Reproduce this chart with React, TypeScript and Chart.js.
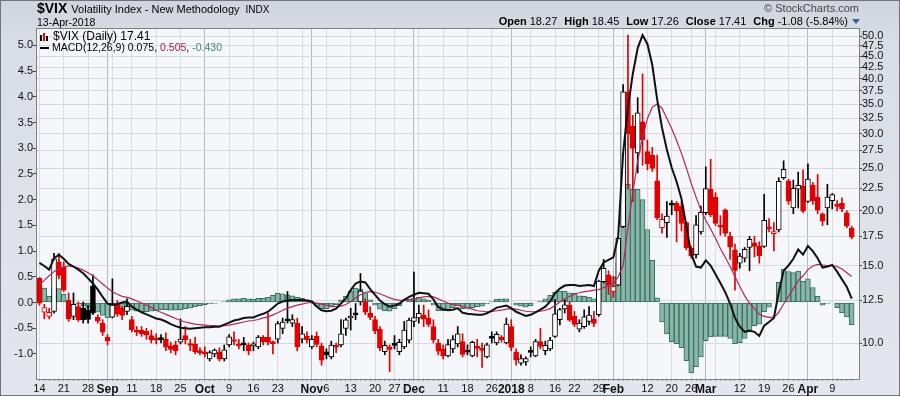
import React, { useEffect, useRef } from "react";
import { Chart, registerables } from "chart.js";

Chart.register(...registerables);

const FONT = '"Liberation Sans", Arial, sans-serif';

// ---- categories (trading days) ----
const firstDay = "2017-08-14";
const lastDay = "2018-04-13";
const holidays = ["2017-09-04", "2017-11-23", "2017-12-25", "2018-01-01", "2018-01-15", "2018-02-19", "2018-03-30"];

function buildTradingDays(): string[] {
  const out: string[] = [];
  const d = new Date(firstDay + "T00:00:00Z");
  const end = new Date(lastDay + "T00:00:00Z");
  while (d <= end) {
    const wd = d.getUTCDay();
    const s = d.toISOString().slice(0, 10);
    if (wd !== 0 && wd !== 6 && !holidays.includes(s)) out.push(s);
    d.setUTCDate(d.getUTCDate() + 1);
  }
  return out;
}
const dates = buildTradingDays();

// ---- tick labels ----
const tickLabels: [string, string][] = [
  ["2017-08-14", "14"], ["2017-08-21", "21"], ["2017-08-28", "28"], ["2017-09-01", "Sep"],
  ["2017-09-11", "11"], ["2017-09-18", "18"], ["2017-09-25", "25"], ["2017-10-02", "Oct"],
  ["2017-10-09", "9"], ["2017-10-16", "16"], ["2017-10-23", "23"], ["2017-11-01", "Nov"],
  ["2017-11-06", "6"], ["2017-11-13", "13"], ["2017-11-20", "20"], ["2017-11-27", "27"],
  ["2017-12-01", "Dec"], ["2017-12-11", "11"], ["2017-12-18", "18"], ["2017-12-26", "26"],
  ["2018-01-02", "2018"], ["2018-01-08", "8"], ["2018-01-16", "16"], ["2018-01-22", "22"],
  ["2018-01-29", "29"], ["2018-02-01", "Feb"], ["2018-02-12", "12"], ["2018-02-20", "20"],
  ["2018-02-26", "26"], ["2018-03-01", "Mar"], ["2018-03-12", "12"], ["2018-03-19", "19"],
  ["2018-03-26", "26"], ["2018-04-02", "Apr"], ["2018-04-09", "9"],
];
const boldTickLabels = ["Sep", "Oct", "Nov", "Dec", "2018", "Feb", "Mar", "Apr"];
const macdTicks = [-1.0, -0.5, 0.0, 0.5, 1.0, 1.5, 2.0, 2.5, 3.0, 3.5, 4.0, 4.5, 5.0];
const priceTicks = [10.0, 12.5, 15.0, 17.5, 20.0, 22.5, 25.0, 27.5, 30.0, 32.5, 35.0, 37.5, 40.0, 42.5, 45.0, 47.5, 50.0];

// ---- $VIX daily OHLC ----
const open = [
  14.05, 11.75, 11.50, 11.80, 15.30, 14.90, 12.50, 11.50, 12.10, 12.00,
  11.90, 13.50, 11.45, 11.10, 10.30, 11.45, 12.20, 12.00, 11.80, 11.30,
  10.65, 10.70, 10.65, 10.40, 10.25, 10.20, 10.20, 9.85, 9.90, 10.05,
  10.40, 9.90, 9.95, 9.60, 9.55, 9.20, 9.45, 9.55, 9.20, 9.90,
  10.15, 9.95, 9.95, 9.90, 9.85, 9.80, 10.30, 10.30, 10.00, 10.20,
  10.80, 11.30, 11.10, 11.10, 10.20, 10.35, 9.80, 10.35, 9.85, 9.55,
  9.30, 9.80, 9.90, 10.80, 11.40, 11.65, 12.40, 12.40, 11.70, 11.30,
  10.75, 9.55, 9.80, 10.00, 9.55, 9.80, 10.15, 11.20, 11.40, 11.60,
  11.40, 10.90, 10.00, 9.70, 9.35, 9.70, 9.95, 10.07, 9.55, 9.35,
  9.75, 9.65, 9.30, 10.30, 10.00, 10.30, 10.00, 10.90, 9.55, 9.00,
  9.05, 9.60, 9.35, 10.07, 9.60, 9.70, 10.35, 11.30, 11.95, 12.20,
  11.50, 10.75, 10.90, 11.20, 11.35, 11.60, 13.80, 14.30, 13.10, 13.55,
  18.40, 37.30, 31.20, 27.10, 31.90, 27.30, 26.80, 23.40, 18.30, 18.80,
  20.80, 20.80, 20.50, 18.80, 16.45, 15.90, 17.90, 19.80, 22.40, 21.50,
  18.40, 20.10, 17.50, 16.30, 15.20, 15.60, 16.50, 16.90, 16.60, 16.60,
  18.30, 17.75, 18.10, 23.80, 23.40, 20.30, 22.40, 22.80, 21.00, 22.90,
  21.50, 19.70, 20.30, 21.10, 20.50, 20.80, 19.80, 18.27,
];
const high = [
  14.10, 12.25, 12.00, 16.00, 16.00, 15.30, 13.00, 13.00, 12.40, 12.40,
  12.20, 14.30, 11.60, 11.30, 10.45, 14.00, 12.50, 12.10, 12.60, 11.50,
  10.90, 10.90, 10.80, 10.70, 10.50, 10.45, 10.55, 10.05, 10.10, 11.35,
  10.90, 10.20, 10.30, 9.75, 9.80, 9.60, 9.70, 9.75, 9.90, 10.45,
  10.60, 10.20, 10.30, 10.00, 10.05, 10.40, 10.40, 11.70, 10.10, 11.20,
  11.40, 13.10, 11.60, 11.40, 10.90, 10.60, 10.40, 10.60, 10.00, 9.70,
  10.10, 10.00, 11.30, 11.40, 12.00, 12.30, 14.40, 12.60, 12.10, 11.50,
  10.90, 10.10, 9.90, 10.40, 10.20, 11.20, 11.40, 14.50, 12.20, 12.20,
  11.90, 11.30, 10.20, 9.90, 10.20, 10.40, 10.90, 10.50, 9.90, 10.10,
  10.20, 10.00, 10.00, 10.60, 10.60, 10.40, 11.40, 11.30, 9.70, 9.40,
  9.30, 9.80, 10.20, 10.80, 10.10, 10.30, 12.55, 12.00, 12.55, 12.40,
  11.80, 11.30, 11.90, 12.10, 11.80, 13.90, 15.50, 14.60, 14.20, 17.40,
  38.80, 50.30, 33.00, 36.20, 41.00, 29.00, 27.90, 26.80, 19.70, 21.00,
  21.10, 21.00, 21.00, 18.90, 16.60, 19.50, 20.50, 25.20, 26.20, 22.00,
  19.50, 20.20, 17.90, 16.80, 16.00, 16.50, 17.50, 17.50, 17.00, 21.80,
  19.20, 18.80, 23.80, 26.00, 23.60, 23.50, 24.50, 24.80, 25.60, 23.20,
  24.20, 19.80, 23.00, 21.90, 21.10, 21.40, 20.00, 18.45,
];
const low = [
  12.20, 11.35, 11.35, 11.70, 14.00, 13.10, 11.20, 11.30, 11.20, 11.10,
  11.10, 11.60, 11.10, 10.40, 9.90, 11.40, 11.50, 11.30, 11.60, 10.60,
  10.40, 10.35, 10.20, 10.00, 9.95, 10.00, 9.60, 9.50, 9.40, 9.95,
  9.95, 9.60, 9.45, 9.40, 9.30, 9.10, 9.30, 9.10, 9.10, 9.80,
  9.90, 9.70, 9.60, 9.40, 9.60, 9.70, 9.90, 9.90, 9.45, 10.00,
  10.50, 11.10, 10.90, 9.60, 10.00, 10.00, 9.70, 9.80, 8.90, 9.20,
  9.20, 9.50, 9.80, 10.40, 10.70, 11.30, 12.20, 11.60, 11.30, 10.50,
  9.60, 9.40, 8.60, 9.70, 9.40, 9.70, 10.00, 10.90, 11.10, 10.90,
  10.90, 10.00, 9.40, 9.20, 9.30, 9.50, 9.80, 9.30, 9.40, 9.30,
  9.30, 8.80, 9.25, 10.00, 9.90, 10.05, 9.95, 9.60, 8.90, 8.90,
  8.90, 9.30, 9.30, 9.70, 9.40, 9.60, 10.30, 11.00, 11.70, 11.20,
  10.90, 10.60, 10.80, 11.00, 10.90, 11.50, 13.70, 12.90, 12.70, 13.50,
  18.30, 22.40, 21.00, 24.40, 25.40, 24.80, 24.60, 19.10, 17.80, 17.40,
  19.60, 17.00, 18.00, 16.30, 15.60, 15.60, 17.70, 19.60, 19.40, 18.50,
  17.60, 17.50, 15.50, 13.20, 14.80, 15.30, 14.60, 15.70, 15.20, 16.50,
  17.90, 16.20, 17.90, 23.60, 20.70, 19.70, 20.30, 19.80, 20.90, 20.70,
  19.70, 18.50, 18.60, 20.20, 20.00, 19.90, 18.30, 17.26,
];
const close = [
  12.33, 12.04, 11.74, 15.55, 14.26, 13.19, 11.35, 12.25, 11.28, 11.28,
  11.32, 11.70, 11.22, 10.59, 10.13, 12.23, 11.63, 11.55, 12.12, 10.73,
  10.58, 10.50, 10.44, 10.17, 10.15, 10.18, 9.78, 9.67, 9.59, 10.21,
  10.17, 9.87, 9.55, 9.51, 9.45, 9.51, 9.63, 9.19, 9.65, 10.33,
  10.08, 9.85, 9.91, 9.61, 9.91, 10.31, 10.07, 10.05, 9.97, 11.07,
  11.16, 11.23, 11.30, 9.80, 10.50, 10.18, 10.20, 9.93, 9.14, 9.40,
  9.89, 9.78, 10.50, 11.29, 11.50, 11.59, 13.13, 11.76, 11.43, 10.65,
  9.73, 9.88, 9.67, 9.87, 10.03, 10.70, 11.28, 11.43, 11.68, 11.33,
  11.02, 10.16, 9.58, 9.34, 9.92, 10.18, 10.49, 9.42, 9.53, 10.03,
  9.72, 9.62, 9.90, 10.25, 10.47, 10.18, 11.04, 9.77, 9.15, 9.22,
  9.22, 9.52, 10.08, 9.82, 9.88, 10.16, 11.66, 11.91, 12.22, 11.27,
  11.03, 11.10, 11.47, 11.58, 11.08, 13.84, 14.79, 13.54, 13.47, 17.31,
  37.32, 29.98, 27.73, 33.46, 29.06, 25.61, 24.97, 19.26, 19.13, 19.46,
  20.60, 20.02, 18.72, 16.49, 15.80, 18.59, 19.85, 22.47, 19.59, 18.73,
  18.36, 17.76, 16.54, 14.64, 15.78, 16.35, 17.23, 16.59, 15.80, 19.02,
  18.20, 17.86, 23.34, 24.87, 21.03, 22.50, 22.87, 19.97, 23.62, 21.10,
  20.06, 18.94, 21.49, 21.77, 20.47, 20.24, 18.49, 17.41,
];

// ---- MACD(12,26,9) ----
const macdLine = [
  0.77, 0.71, 0.64, 0.86, 0.93, 0.85, 0.75, 0.70, 0.64, 0.57,
  0.47, 0.37, 0.25, 0.11, -0.02, -0.05, -0.03, 0.00, 0.02, -0.08,
  -0.14, -0.19, -0.23, -0.27, -0.31, -0.33, -0.37, -0.42, -0.46, -0.49,
  -0.50, -0.51, -0.50, -0.49, -0.48, -0.48, -0.47, -0.47, -0.43, -0.39,
  -0.35, -0.33, -0.30, -0.29, -0.29, -0.25, -0.22, -0.18, -0.10, -0.02,
  0.02, 0.04, 0.05, 0.05, 0.05, 0.04, 0.02, -0.08, -0.15, -0.17,
  -0.16, -0.12, -0.02, 0.08, 0.24, 0.37, 0.41, 0.39, 0.26, 0.15,
  0.04, -0.03, -0.08, -0.06, -0.02, 0.05, 0.11, 0.15, 0.19, 0.18,
  0.17, 0.06, -0.09, -0.13, -0.15, -0.14, -0.11, -0.20, -0.22, -0.23,
  -0.24, -0.24, -0.21, -0.16, -0.10, -0.08, -0.06, -0.11, -0.18, -0.22,
  -0.26, -0.24, -0.19, -0.14, -0.08, 0.02, 0.18, 0.27, 0.33, 0.34,
  0.34, 0.32, 0.33, 0.34, 0.32, 0.62, 0.78, 0.83, 0.88, 1.30,
  2.90, 3.80, 4.45, 4.95, 5.20, 5.03, 4.62, 3.95, 3.40, 2.97,
  2.62, 2.35, 2.02, 1.49, 0.95, 0.70, 0.68, 0.82, 0.72, 0.55,
  0.38, 0.20, -0.02, -0.30, -0.47, -0.57, -0.55, -0.57, -0.65, -0.45,
  -0.38, -0.30, 0.20, 0.62, 0.72, 0.85, 1.03, 0.93, 1.10, 1.00,
  0.86, 0.68, 0.70, 0.73, 0.60, 0.45, 0.30, 0.075,
];
const signalLine = [
  0.35, 0.43, 0.52, 0.60, 0.66, 0.69, 0.71, 0.70, 0.67, 0.63,
  0.58, 0.52, 0.44, 0.36, 0.28, 0.21, 0.16, 0.12, 0.10, 0.07,
  0.03, -0.01, -0.05, -0.10, -0.15, -0.19, -0.23, -0.27, -0.31, -0.35,
  -0.38, -0.40, -0.42, -0.43, -0.44, -0.45, -0.45, -0.46, -0.45, -0.44,
  -0.42, -0.40, -0.38, -0.36, -0.35, -0.33, -0.30, -0.28, -0.24, -0.20,
  -0.15, -0.11, -0.08, -0.05, -0.03, -0.01, 0.00, -0.01, -0.03, -0.05,
  -0.07, -0.08, -0.07, -0.04, 0.02, 0.09, 0.15, 0.20, 0.21, 0.20,
  0.17, 0.13, 0.09, 0.06, 0.04, 0.04, 0.05, 0.07, 0.09, 0.11,
  0.12, 0.11, 0.07, 0.03, -0.01, -0.04, -0.05, -0.08, -0.11, -0.13,
  -0.16, -0.17, -0.18, -0.18, -0.16, -0.15, -0.13, -0.12, -0.13, -0.15,
  -0.17, -0.18, -0.18, -0.17, -0.15, -0.12, -0.06, 0.01, 0.07, 0.12,
  0.16, 0.19, 0.21, 0.22, 0.24, 0.25, 0.29, 0.33, 0.37, 0.50,
  0.72, 1.45, 2.15, 2.75, 3.20, 3.58, 3.80, 3.86, 3.78, 3.58,
  3.38, 3.15, 2.90, 2.62, 2.32, 2.05, 1.80, 1.60, 1.43, 1.25,
  1.05, 0.88, 0.70, 0.50, 0.31, 0.13, -0.01, -0.12, -0.23, -0.27,
  -0.29, -0.29, -0.19, -0.03, 0.12, 0.27, 0.42, 0.52, 0.64, 0.71,
  0.74, 0.73, 0.72, 0.72, 0.70, 0.65, 0.58, 0.505,
];
const macdHist = [
  0.42, 0.28, 0.12, 0.26, 0.27, 0.16, 0.04, 0.00, -0.03, -0.06,
  -0.11, -0.15, -0.19, -0.25, -0.30, -0.26, -0.19, -0.12, -0.08, -0.15,
  -0.17, -0.18, -0.18, -0.17, -0.16, -0.14, -0.14, -0.15, -0.15, -0.14,
  -0.12, -0.11, -0.08, -0.06, -0.04, -0.03, -0.02, -0.01, 0.02, 0.05,
  0.07, 0.07, 0.08, 0.07, 0.06, 0.08, 0.08, 0.10, 0.14, 0.18,
  0.17, 0.15, 0.13, 0.10, 0.08, 0.05, 0.02, -0.07, -0.12, -0.12,
  -0.09, -0.04, 0.05, 0.12, 0.22, 0.28, 0.26, 0.19, 0.05, -0.05,
  -0.13, -0.16, -0.17, -0.12, -0.06, 0.01, 0.06, 0.08, 0.10, 0.07,
  0.05, -0.05, -0.16, -0.16, -0.14, -0.10, -0.06, -0.12, -0.11, -0.10,
  -0.08, -0.07, -0.03, 0.02, 0.06, 0.07, 0.07, 0.01, -0.05, -0.07,
  -0.09, -0.06, -0.01, 0.03, 0.07, 0.14, 0.20, 0.22, 0.22, 0.19,
  0.18, 0.13, 0.12, 0.10, 0.07, 0.40, 0.45, 0.48, 0.50, 0.78,
  2.05, 2.30, 2.20, 2.20, 2.00, 1.42, 0.82, 0.09, -0.38, -0.61,
  -0.76, -0.80, -0.88, -1.13, -1.37, -1.25, -1.06, -0.74, -0.67, -0.66,
  -0.66, -0.66, -0.70, -0.80, -0.78, -0.70, -0.54, -0.45, -0.42, -0.18,
  -0.09, -0.01, 0.39, 0.65, 0.60, 0.58, 0.61, 0.41, 0.46, 0.29,
  0.12, -0.05, -0.02, 0.01, -0.10, -0.20, -0.28, -0.43,
];

const RED = "#e20000";
const BLACK = "#000000";

export default function App() {
  const canvasRef = useRef<HTMLCanvasElement>(null);

  useEffect(() => {
    const labelByDate: Record<string, string> = {};
    tickLabels.forEach(([d, l]) => (labelByDate[d] = l));
    const categories = [...dates, ""]; // one empty slot after the last session
    const tickText = categories.map((d) => labelByDate[d] || "");

    const weekKey = (s: string) => {
      const t = new Date(s + "T00:00:00Z");
      const wd = t.getUTCDay();
      t.setUTCDate(t.getUTCDate() - (wd - 1));
      return t.toISOString().slice(0, 10);
    };
    const isWeekStart = (i: number) => i < dates.length && (i === 0 || weekKey(dates[i]) !== weekKey(dates[i - 1]));
    const isMonthStart = (i: number) => i > 0 && i < dates.length && dates[i].slice(0, 7) !== dates[i - 1].slice(0, 7);

    const candleColor = dates.map((_, i) =>
      (i === 0 ? close[i] >= open[i] : close[i] >= close[i - 1]) ? BLACK : RED
    );
    const bodyFill = dates.map((_, i) => (close[i] < open[i] ? candleColor[i] : "#ffffff"));

    const plotFrame = {
      id: "plotFrame",
      beforeDraw(chart: any) {
        const { ctx, chartArea: a } = chart;
        ctx.save();
        ctx.fillStyle = "#f6f7fb";
        ctx.fillRect(a.left, a.top, a.right - a.left, a.bottom - a.top);
        ctx.restore();
      },
      afterDraw(chart: any) {
        const { ctx, chartArea: a } = chart;
        ctx.save();
        ctx.strokeStyle = "#7b7f88";
        ctx.lineWidth = 1;
        ctx.strokeRect(Math.round(a.left) - 0.5, Math.round(a.top) - 0.5, Math.round(a.right - a.left) + 1, Math.round(a.bottom - a.top) + 1);
        ctx.restore();
      },
    };

    const chart = new Chart(canvasRef.current as HTMLCanvasElement, {
      type: "bar",
      data: {
        labels: categories,
        datasets: [
          {
            type: "line",
            label: "MACD",
            data: macdLine,
            yAxisID: "y",
            borderColor: "#111111",
            borderWidth: 2,
            pointRadius: 0,
            tension: 0,
            order: 0,
          } as any,
          {
            type: "line",
            label: "Signal",
            data: signalLine,
            yAxisID: "y",
            borderColor: "#b3275a",
            borderWidth: 1.2,
            pointRadius: 0,
            tension: 0,
            order: 0,
          } as any,
          {
            type: "bar",
            label: "body",
            data: dates.map((_, i) => [open[i], close[i]]),
            yAxisID: "y2",
            backgroundColor: bodyFill,
            borderColor: candleColor,
            borderWidth: 1,
            borderSkipped: false,
            barThickness: 5,
            minBarLength: 2,
            grouped: false,
            order: 1,
          } as any,
          {
            type: "bar",
            label: "wick",
            data: dates.map((_, i) => [low[i], high[i]]),
            yAxisID: "y2",
            backgroundColor: candleColor,
            borderWidth: 0,
            barThickness: 1,
            grouped: false,
            order: 2,
          } as any,
          {
            type: "bar",
            label: "hist",
            data: macdHist,
            yAxisID: "y",
            backgroundColor: "#8ab6a8",
            borderColor: "#356f5f",
            borderWidth: 1,
            borderSkipped: false,
            barPercentage: 1,
            categoryPercentage: 1,
            grouped: false,
            order: 3,
          } as any,
        ],
      },
      options: {
        animation: false,
        responsive: false,
        events: [],
        layout: { padding: { top: 29, left: 0, right: 0, bottom: 0 }, autoPadding: false },
        plugins: { legend: { display: false }, tooltip: { enabled: false }, title: { display: false } },
        scales: {
          x: {
            type: "category",
            offset: true,
            border: { display: false },
            grid: {
              offset: false,
              drawOnChartArea: true,
              drawTicks: true,
              tickLength: 2,
              color: (c: any) => (isMonthStart(c.index) ? "#b4b8c2" : isWeekStart(c.index) ? "#d9dce3" : "rgba(0,0,0,0)"),
              tickColor: (c: any) => (c.index < dates.length ? "#8a8e96" : "rgba(0,0,0,0)"),
            },
            ticks: {
              autoSkip: false,
              maxRotation: 0,
              minRotation: 0,
              padding: 1,
              color: "#111",
              callback: (_v: any, i: number) => tickText[i],
              font: (c: any) => ({
                family: FONT,
                size: boldTickLabels.includes(tickText[c.index]) ? 12 : 11,
                weight: boldTickLabels.includes(tickText[c.index]) ? "bold" : "normal",
              }),
            },
            afterFit: (s: any) => {
              s.height = 17;
            },
          },
          y: {
            type: "linear",
            position: "left",
            min: -1.488,
            max: 5.32,
            border: { display: false },
            grid: { drawOnChartArea: false, drawTicks: true, tickLength: 4, tickColor: "#444" },
            ticks: {
              padding: 0,
              color: "#111",
              font: { family: FONT, size: 11 },
              callback: (v: any) => Number(v).toFixed(1),
            },
            afterBuildTicks: (s: any) => {
              s.ticks = macdTicks.map((v) => ({ value: v }));
            },
            afterFit: (s: any) => {
              s.width = 37;
            },
          },
          y2: {
            type: "logarithmic",
            position: "right",
            min: 8.28,
            max: 51.9,
            border: { display: false },
            grid: { drawOnChartArea: true, color: "#d6d9e1", drawTicks: true, tickLength: 3, tickColor: "#444" },
            ticks: {
              padding: 0,
              color: "#111",
              font: { family: FONT, size: 11 },
              callback: (v: any) => Number(v).toFixed(1),
            },
            afterBuildTicks: (s: any) => {
              s.ticks = priceTicks.map((v) => ({ value: v }));
            },
            afterFit: (s: any) => {
              s.width = 41;
            },
          },
        },
      } as any,
      plugins: [plotFrame],
    });
    return () => chart.destroy();
  }, []);

  const lbl: React.CSSProperties = { fontWeight: "bold", marginLeft: 7 };
  return (
    <div
      style={{
        position: "fixed",
        left: 0,
        top: 0,
        width: 900,
        height: 396,
        overflow: "hidden",
        fontFamily: FONT,
        color: "#000",
        background: "linear-gradient(to bottom, #cfd4de 0px, #d9dde5 40px, #e3e6ec 396px)",
        boxShadow: "inset 0 0 0 1px #6e737d",
      }}
    >
      <canvas ref={canvasRef} width={900} height={396} style={{ position: "absolute", left: 0, top: 0, display: "block" }} />
      <div style={{ position: "absolute", left: 37, top: 0, whiteSpace: "nowrap", lineHeight: "16px" }}>
        <span style={{ fontWeight: "bold", fontSize: 14 }}>$VIX</span>
        <span style={{ fontSize: 11, marginLeft: 4 }}>Volatility Index - New Methodology</span>
        <span style={{ fontSize: 10, marginLeft: 6 }}>INDX</span>
      </div>
      <div style={{ position: "absolute", left: 37, top: 16, fontSize: 10.5, lineHeight: "12px", whiteSpace: "nowrap" }}>13-Apr-2018</div>
      <div style={{ position: "absolute", right: 41, top: 2, fontSize: 11, lineHeight: "13px", color: "#444", whiteSpace: "nowrap" }}>
        © StockCharts.com
      </div>
      <div style={{ position: "absolute", right: 40, top: 15, fontSize: 11, lineHeight: "13px", whiteSpace: "nowrap", display: "flex", alignItems: "center" }}>
        <span style={{ fontWeight: "bold" }}>Open</span>
        <span style={{ marginLeft: 3 }}>18.27</span>
        <span style={lbl}>High</span>
        <span style={{ marginLeft: 3 }}>18.45</span>
        <span style={lbl}>Low</span>
        <span style={{ marginLeft: 3 }}>17.26</span>
        <span style={lbl}>Close</span>
        <span style={{ marginLeft: 3 }}>17.41</span>
        <span style={lbl}>Chg</span>
        <span style={{ marginLeft: 3 }}>-1.08 (-5.84%)</span>
        <span
          style={{
            display: "inline-block",
            marginLeft: 4,
            width: 0,
            height: 0,
            borderLeft: "4px solid transparent",
            borderRight: "4px solid transparent",
            borderTop: "5px solid #3d5f9e",
          }}
        />
      </div>
      <div style={{ position: "absolute", left: 40, top: 31, lineHeight: "11px", whiteSpace: "nowrap" }}>
        <div style={{ display: "flex", alignItems: "center", fontSize: 12 }}>
          <span style={{ display: "inline-flex", alignItems: "flex-end", width: 10, height: 8, marginRight: 3 }}>
            <span style={{ width: 2, height: 6, background: "#000", marginRight: 1 }} />
            <span style={{ width: 2, height: 8, background: RED, marginRight: 1 }} />
            <span style={{ width: 2, height: 5, background: "#000" }} />
          </span>
          <span>$VIX (Daily) 17.41</span>
        </div>
        <div style={{ display: "flex", alignItems: "center", fontSize: 10.5 }}>
          <span style={{ display: "inline-block", width: 9, height: 2, background: "#000", marginRight: 3 }} />
          <span>MACD(12,26,9) 0.075,</span>
          <span style={{ color: "#a3184b", marginLeft: 3 }}>0.505</span>
          <span>,</span>
          <span style={{ color: "#3f8a74", marginLeft: 3 }}>-0.430</span>
        </div>
      </div>
    </div>
  );
}
